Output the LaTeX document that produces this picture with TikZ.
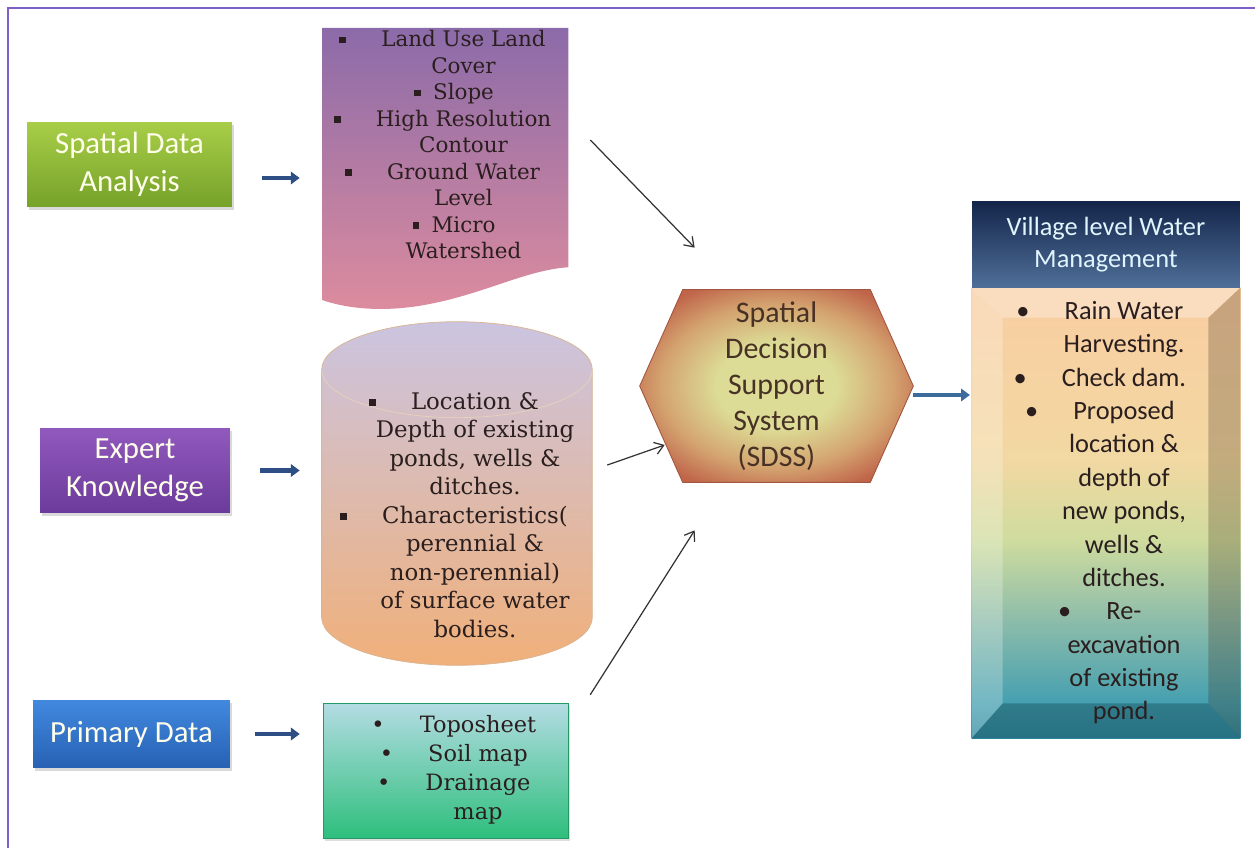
\documentclass[tikz,border=0pt]{standalone}
\usepackage{fontspec}
\setmainfont{DejaVu Serif}
\newfontfamily\slidefont{Carlito}
\usetikzlibrary{positioning, calc, arrows.meta, backgrounds, shadows}

\definecolor{frameviolet}{HTML}{7D5FC5}
\definecolor{sdaTop}{HTML}{A8CE48}
\definecolor{sdaBot}{HTML}{76A22A}
\definecolor{expTop}{HTML}{9159BD}
\definecolor{expBot}{HTML}{6B3B9B}
\definecolor{priTop}{HTML}{4189DF}
\definecolor{priBot}{HTML}{2761B3}
\definecolor{docTop}{HTML}{8B6BA9}
\definecolor{docBot}{HTML}{DD8C9E}
\definecolor{cylTop}{HTML}{CBC4E0}
\definecolor{cylMid}{HTML}{E8CCC4}
\definecolor{cylBot}{HTML}{F0B07A}
\definecolor{cylEdge}{HTML}{D9B48F}
\definecolor{mapTop}{HTML}{B4DCE3}
\definecolor{mapBot}{HTML}{2EBF7D}
\definecolor{hexIn}{HTML}{DCDC96}
\definecolor{hexMid}{HTML}{D4A470}
\definecolor{hexOut}{HTML}{C0654A}
\definecolor{headTop}{HTML}{14254A}
\definecolor{headBot}{HTML}{4F6F99}
\definecolor{panelA}{HTML}{2F8AA0}
\definecolor{panelB}{HTML}{45A0B0}
\definecolor{panelC}{HTML}{8CBCAA}
\definecolor{panelD}{HTML}{CFDC9E}
\definecolor{panelE}{HTML}{F2D8A2}
\definecolor{panelF}{HTML}{F8CFA2}
\definecolor{flowblue}{HTML}{2E4F86}
\definecolor{sdssblue}{HTML}{3C6C9C}
\definecolor{inktext}{HTML}{2A1E1E}

% shadings are fitted so that their middle 50bp cover the path
\pgfdeclareradialshading{hexglow}{\pgfpoint{0bp}{0bp}}{color(0bp)=(hexIn); color(11bp)=(hexIn); color(21bp)=(hexMid); color(29bp)=(hexOut); color(50bp)=(hexOut)}
\pgfdeclareverticalshading{panelfade}{100bp}{color(0bp)=(panelA); color(25bp)=(panelA); color(29bp)=(panelB); color(38bp)=(panelC); color(47bp)=(panelD); color(56bp)=(panelE); color(72bp)=(panelF); color(100bp)=(panelF)}

% bullets hung left of a centred line
\newcommand{\sqb}[1][20pt]{\llap{\rule[0.3ex]{3.8pt}{3.8pt}\hspace{#1}}}
\newcommand{\rdb}[1][20pt]{\llap{\textbullet\hspace{#1}}}
\newcommand{\shiftedlist}[2][0.72cm]{\hspace*{#1}\begin{tabular}{@{}c@{}}#2\end{tabular}}

\begin{document}
\begin{tikzpicture}[
  x=0.02cm, y=-0.02cm,
  source/.style={rectangle, text=white!92!yellow, font=\slidefont\fontsize{17.5}{21.5}\selectfont, align=center, inner sep=0pt, drop shadow={opacity=0.3, shadow xshift=1pt, shadow yshift=-1.5pt}},
  listbox/.style={inner sep=0pt, text=inktext},
  flow/.style={draw=flowblue, line width=2.3pt, -{Triangle[length=5pt, width=7pt]}},
  link/.style={draw=black!80, line width=0.7pt, -{Straight Barb[length=5pt, width=7pt]}},
]
\useasboundingbox (0,0) rectangle (1255,848);
% slide frame
\draw[draw=frameviolet, line width=1.2pt] (8,848) -- (8,8) -- (1255,8);

% Sources
\node[source, top color=sdaTop, bottom color=sdaBot, minimum width=4.1cm, minimum height=1.7cm] (sda) at (129.5,164.5) {Spatial Data\\Analysis};
\node[source, top color=expTop, bottom color=expBot, minimum width=3.8cm, minimum height=1.7cm] (expert) at (135,470.5) {Expert\\Knowledge};
\node[source, top color=priTop, bottom color=priBot, minimum width=3.94cm, minimum height=1.36cm] (primary) at (131.5,734) {Primary Data};

% Inputs
\node[listbox, font=\fontsize{12.2}{15.1}\selectfont, minimum width=4.9cm, minimum height=4.7cm] (layers) at (445.5,147.5)
  {\shiftedlist{\sqb Land Use Land\\Cover\\\sqb[7pt]Slope\\\sqb High Resolution\\Contour\\\sqb Ground Water\\Level\\\sqb[7pt]Micro\\Watershed}};
\node[listbox, font=\fontsize{13}{16.2}\selectfont, minimum width=5.4cm, minimum height=5.9cm] (waterbody) at (457,517.5)
  {\shiftedlist{\sqb Location \&\\Depth of existing\\ponds, wells \&\\ditches.\\\sqb Characteristics(\\perennial \&\\non-perennial)\\of surface water\\bodies.}};
\node[listbox, font=\fontsize{12.8}{16.5}\selectfont, top color=mapTop, bottom color=mapBot, draw=mapBot!80!black, line width=0.3pt, minimum width=4.9cm, minimum height=2.7cm, drop shadow={opacity=0.25, shadow xshift=1pt, shadow yshift=-1.5pt}] (maps) at (445.5,770.5)
  {\shiftedlist[1.3cm]{\rdb Toposheet\\\rdb Soil map\\\rdb Drainage\\map}};

% SDSS
\node[align=center, inner sep=0pt, text=inktext!80!brown, font=\slidefont\fontsize{17}{20.5}\selectfont, minimum width=5.46cm, minimum height=3.84cm] (sdss) at (776.5,386)
  {Spatial\\Decision\\Support\\System\\(SDSS)};

% Output
\node[listbox, font=\slidefont\fontsize{15}{19}\selectfont, minimum width=5.36cm, minimum height=9cm] (village) at (1106,513)
  {\shiftedlist{\rdb Rain Water\\Harvesting.\\\rdb Check dam.\\\rdb Proposed\\location \&\\depth of\\new ponds,\\wells \&\\ditches.\\\rdb Re-\\excavation\\of existing\\pond.}};
\node[top color=headTop, bottom color=headBot, text=white!88!cyan, align=center, inner sep=0pt, font=\slidefont\fontsize{15}{18}\selectfont, minimum width=5.36cm, minimum height=1.72cm, above=0pt of village] (vhead)
  {Village level Water\\Management};

\begin{pgfonlayer}{background}
  % document shape
  \shade[top color=docTop, bottom color=docBot] (layers.north west) -- (layers.north east) -- (layers.south east)
    .. controls +(-0.96cm,-0.06cm) and +(1.4cm,0.12cm) .. ([xshift=1.54cm,yshift=-0.82cm]layers.south west)
    .. controls +(-0.8cm,-0.06cm) and +(0.24cm,-0.08cm) .. ([yshift=-0.66cm]layers.south west) -- cycle;
  % cylinder
  \shade[top color=cylTop, middle color=cylMid, bottom color=cylBot, draw=cylEdge, line width=0.4pt]
    (waterbody.north west) .. controls +(0,0.53cm) and +(-1.49cm,0) .. ([yshift=0.96cm]waterbody.north)
    .. controls +(1.49cm,0) and +(0,0.53cm) .. (waterbody.north east)
    -- ([yshift=0.96cm]waterbody.south east)
    .. controls +(0,-0.53cm) and +(1.49cm,0) .. (waterbody.south)
    .. controls +(-1.49cm,0) and +(0,-0.53cm) .. ([yshift=0.96cm]waterbody.south west) -- cycle;
  \draw[cylEdge!60!white, line width=0.4pt] (waterbody.north west) .. controls +(0,-0.53cm) and +(-1.49cm,0) .. ([yshift=-0.96cm]waterbody.north)
    .. controls +(1.49cm,0) and +(0,-0.53cm) .. (waterbody.north east);
  % hexagon
  \shade[shading=hexglow, draw=hexOut!85!black, line width=0.5pt] (sdss.west) -- ([xshift=0.86cm]sdss.north west) -- ([xshift=-0.86cm]sdss.north east)
    -- (sdss.east) -- ([xshift=-0.86cm]sdss.south east) -- ([xshift=0.86cm]sdss.south west) -- cycle;
  % bevelled panel
  \shade[shading=panelfade] (village.north west) rectangle (village.south east);
  \fill[white, opacity=0.3] (village.north west) -- (village.north east) -- ([xshift=-0.64cm,yshift=-0.6cm]village.north east) -- ([xshift=0.62cm,yshift=-0.6cm]village.north west) -- cycle;
  \fill[white, opacity=0.25] (village.north west) -- ([xshift=0.62cm,yshift=-0.6cm]village.north west) -- ([xshift=0.62cm,yshift=0.7cm]village.south west) -- (village.south west) -- cycle;
  \fill[black!70!brown, opacity=0.25] (village.north east) -- ([xshift=-0.64cm,yshift=-0.6cm]village.north east) -- ([xshift=-0.64cm,yshift=0.7cm]village.south east) -- (village.south east) -- cycle;
  \fill[panelA!60!black, opacity=0.45] (village.south west) -- ([xshift=0.62cm,yshift=0.7cm]village.south west) -- ([xshift=-0.64cm,yshift=0.7cm]village.south east) -- (village.south east) -- cycle;
\end{pgfonlayer}

% Arrows
\draw[flow, shorten <=0.6cm, shorten >=0.46cm] ([yshift=-0.27cm]sda.east) -- ([yshift=-0.27cm]sda.east -| layers.west);
\draw[flow, shorten <=0.6cm, shorten >=0.44cm] (expert.east) -- (expert.east -| waterbody.west);
\draw[flow, shorten <=0.5cm, shorten >=0.46cm] (primary.east) -- (primary.east -| maps.west);
\draw[flow, draw=sdssblue, line width=2.8pt, shorten >=1pt] ([yshift=-0.18cm]sdss.east) -- ([yshift=-0.18cm]sdss.east -| village.west);

\draw[link] ([xshift=0.44cm,yshift=0.15cm]layers.east) -- ([xshift=1.1cm,yshift=0.84cm]sdss.north west);
\draw[link] ([xshift=0.3cm,yshift=1.05cm]waterbody.east) -- ([xshift=0.5cm,yshift=-1.18cm]sdss.west);
\draw[link] ([xshift=0.44cm,yshift=0.16cm]maps.north east) -- ([xshift=1.1cm,yshift=-0.96cm]sdss.south west);
\end{tikzpicture}
\end{document}
